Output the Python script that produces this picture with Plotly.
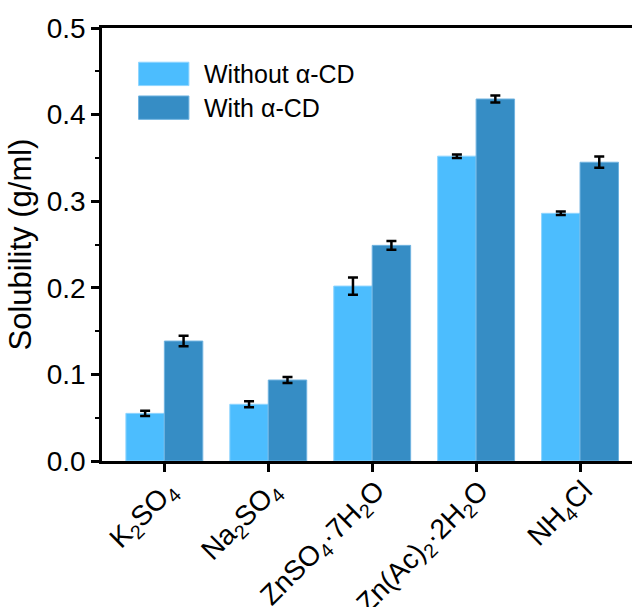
import plotly.graph_objects as go

# Salts and measured solubility (g/ml)
salts = [
    "K<sub>2</sub>SO<sub>4</sub>",
    "Na<sub>2</sub>SO<sub>4</sub>",
    "ZnSO<sub>4</sub>·7H<sub>2</sub>O",
    "Zn(Ac)<sub>2</sub>·2H<sub>2</sub>O",
    "NH<sub>4</sub>Cl",
]
without_cd = [0.055, 0.0655, 0.202, 0.352, 0.286]
without_cd_err = [0.003, 0.0035, 0.010, 0.002, 0.002]
with_cd = [0.1385, 0.0935, 0.249, 0.418, 0.345]
with_cd_err = [0.006, 0.0035, 0.005, 0.004, 0.0065]

series_names = ["Without α-CD", "With α-CD"]
light_blue = "#4CBDFE"
dark_blue = "#368DC5"
FONT = "Liberation Sans, Arial, sans-serif"

fig = go.Figure()
for name, vals, errs, color, edge in [
    (series_names[0], without_cd, without_cd_err, light_blue, "#8ED5FF"),
    (series_names[1], with_cd, with_cd_err, dark_blue, "#6FB3E0"),
]:
    fig.add_trace(go.Bar(
        x=list(range(len(salts))), y=vals, name=name,
        marker=dict(color=color, line=dict(color=edge, width=1)),
        error_y=dict(type="data", array=errs, visible=True,
                     color="black", thickness=2.5, width=5),
        showlegend=False,
    ))

# Legend drawn as swatches + labels
legend_rows = [(series_names[0], light_blue, "#8ED5FF", 0.894),
               (series_names[1], dark_blue, "#6FB3E0", 0.816)]
for label, color, edge, yc in legend_rows:
    fig.add_shape(type="rect", xref="paper", yref="paper",
                  x0=0.069, x1=0.164, y0=yc - 0.027, y1=yc + 0.027,
                  fillcolor=color, line=dict(color=edge, width=1))
    fig.add_annotation(xref="paper", yref="paper", x=0.188, y=yc,
                       text=label, showarrow=False, xanchor="left",
                       yanchor="middle",
                       font=dict(family=FONT, size=25, color="black"))

fig.update_layout(
    width=632, height=607,
    margin=dict(l=102, r=0, t=28, b=146, autoexpand=False),
    paper_bgcolor="white", plot_bgcolor="white",
    barmode="group", bargap=0.26, bargroupgap=0,
    font=dict(family=FONT, color="black"),
)
fig.update_xaxes(
    range=[-0.60, 4.50], tickmode="array",
    tickvals=list(range(len(salts))), ticktext=salts,
    tickangle=-45, tickfont=dict(size=28, family=FONT),
    ticklabelstandoff=-9, ticklabelshift=4,
    automargin=False,
    showline=True, linecolor="black", linewidth=2.5, mirror=True,
    ticks="outside", ticklen=8, tickwidth=2.5, tickcolor="black",
    showgrid=False, zeroline=False,
)
fig.update_yaxes(
    range=[0, 0.5], dtick=0.1, tickformat=".1f",
    tickfont=dict(size=28, family=FONT),
    automargin=False,
    title=dict(text="Solubility (g/ml)", font=dict(size=31, family=FONT),
               standoff=6),
    showline=True, linecolor="black", linewidth=2.5, mirror=False,
    ticks="outside", ticklen=8, tickwidth=2.5, tickcolor="black",
    minor=dict(dtick=0.05, ticks="outside", ticklen=4, tickwidth=2,
               tickcolor="black"),
    showgrid=False, zeroline=False,
)

fig.write_html("out.html")
